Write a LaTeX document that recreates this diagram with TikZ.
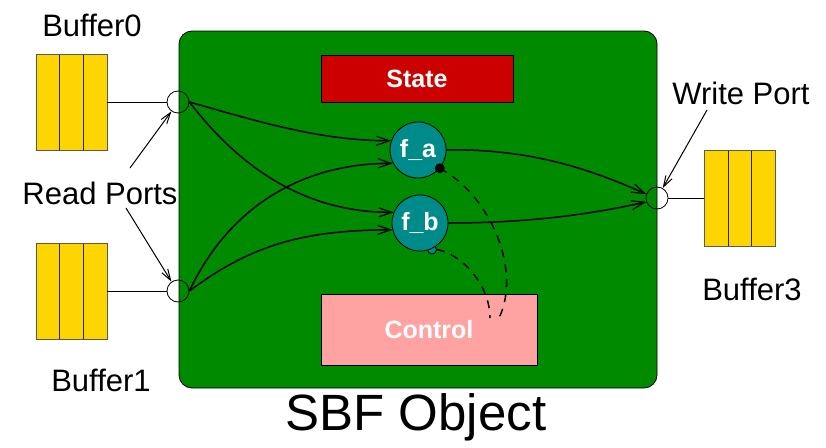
\documentclass[tikz,border=0pt]{standalone}
\usepackage{fontspec}
\setmainfont{Liberation Sans}
\usetikzlibrary{arrows.meta,calc}
\definecolor{objgreen}{RGB}{0,138,0}
\definecolor{bufyellow}{RGB}{255,213,0}
\definecolor{statered}{RGB}{204,0,0}
\definecolor{ctrlpink}{RGB}{255,162,162}
\definecolor{functeal}{RGB}{0,139,139}
\tikzset{
  bufbox/.style={rectangle, draw=black!65, fill=bufyellow, line width=0.8pt,
    minimum width=71pt, minimum height=96pt, inner sep=0pt,
    path picture={\foreach \f in {1,2}{\draw[black!85, line width=1pt]
      ($(path picture bounding box.south west)!\f/3!(path picture bounding box.south east)$) --
      ($(path picture bounding box.north west)!\f/3!(path picture bounding box.north east)$);}}},
  port/.style={circle, draw, line width=0.8pt, minimum size=22pt, inner sep=0pt},
  func/.style={circle, draw, line width=0.8pt, fill=functeal, minimum size=56pt, inner sep=0pt,
    text=white, font=\fontsize{25}{28}\selectfont\bfseries},
  block/.style={rectangle, draw, line width=0.8pt, inner sep=0pt, text=white,
    font=\fontsize{25}{28}\selectfont\bfseries},
  lbl/.style={font=\fontsize{31}{35}\selectfont, inner sep=0pt},
  flow/.style={line width=1.5pt, -{Straight Barb[length=13pt,width=9pt,line width=1.2pt]}},
  pointer/.style={line width=1pt, -{Straight Barb[length=11pt,width=7pt,line width=1pt]}},
  ctl/.style={line width=1.5pt, dash pattern=on 8pt off 7pt},
}
\begin{document}
\begin{tikzpicture}[x=1pt,y=-1pt]
  \useasboundingbox (0,0) rectangle (826,447);

  % object body
  \filldraw[fill=objgreen, draw=black, line width=0.8pt, rounded corners=13pt]
    (179,31) rectangle (657,388);
  \node[block, fill=statered, minimum width=192pt, minimum height=47pt] (state) at (417,78.5) {State};
  \node[block, fill=ctrlpink, minimum width=216pt, minimum height=71pt] (ctrl) at (429,329.5) {Control};

  % buffers and ports
  \node[bufbox] (buf0) at (71.5,102) {};
  \node[bufbox] (buf1) at (71.5,291) {};
  \node[bufbox] (buf3) at (740,198) {};
  \node[port] (rp0) at (178,102) {};
  \node[port] (rp1) at (178,291) {};
  \node[port] (wp) at (657,198) {};
  \draw[line width=1pt] (buf0.east) -- (rp0.west);
  \draw[line width=1pt] (buf1.east) -- (rp1.west);
  \draw[line width=1pt] (wp.east) -- (buf3.west);

  % functions
  \node[circle, draw, line width=0.8pt, fill=functeal, minimum size=9pt, inner sep=0pt]
    (fbout) at (432,249.5) {};
  \node[func] (fa) at (418,150) {f\_a};
  \node[func] (fb) at (420,223) {f\_b};
  \node[circle, fill=black, minimum size=10pt, inner sep=0pt] (faout) at (fa.-40) {};

  % data flow
  \draw[flow] (rp0.east) .. controls +(70,20) and +(-70,0) .. (fa.161);
  \draw[flow] (rp0.east) .. controls +(50,65) and +(-90,0) .. (fb.158);
  \draw[flow] (rp1.east) .. controls +(40,-85) and +(-90,0) .. (fa.208);
  \draw[flow] (rp1.east) .. controls +(60,-45) and +(-90,0) .. (fb.194);
  \draw[flow] (fa.east) .. controls +(90,-2) and +(-45,-20) .. (wp.160);
  \draw[flow] (fb.east) .. controls +(90,0) and +(-45,10) .. (wp.200);

  % control links
  \coordinate (ca) at (499,318);
  \coordinate (cb) at (490,318);
  \draw[ctl] (faout.center) .. controls (490,195) and (522,270) .. (ca);
  \draw[ctl] (fbout.east) .. controls (462,254) and (490,285) .. (cb);

  % labels
  \node[lbl] (l0) at (92,25) {Buffer0};
  \node[lbl] (lr) at (100,193) {Read Ports};
  \node[lbl] (l1) at (101,380) {Buffer1};
  \node[lbl] (lw) at (741,93) {Write Port};
  \node[lbl] (l3) at (752,289) {Buffer3};
  \node[font=\fontsize{51}{56}\selectfont, inner sep=0pt] (title) at (416,417) {SBF Object};

  \coordinate (pr0) at (130,168);
  \coordinate (pr1) at (126,208);
  \coordinate (pw) at (707,110);
  \draw[pointer] (pr0) -- (rp0.-125);
  \draw[pointer] (pr1) -- (rp1.125);
  \draw[pointer] (pw) -- (wp.60);
\end{tikzpicture}
\end{document}
